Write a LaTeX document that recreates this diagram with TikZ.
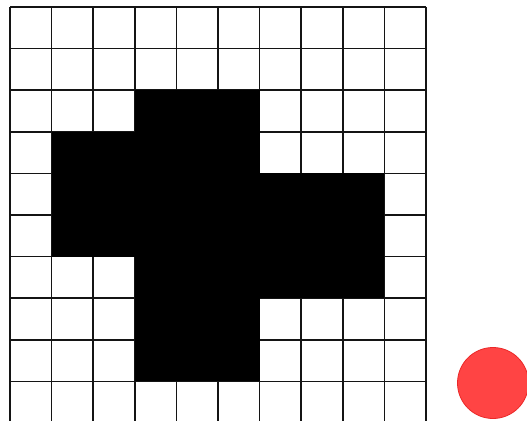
\documentclass[tikz,border=0pt]{standalone}
\definecolor{dotred}{RGB}{255,68,68}
\definecolor{dotedge}{RGB}{235,40,40}
\definecolor{gridline}{RGB}{20,20,20}
\tikzset{
  gridlines/.style={draw=gridline,line width=1.6pt},
  blackcell/.style={fill=black},
  dot/.style={circle,fill=dotred,draw=dotedge,line width=0.8pt,minimum size=71pt,inner sep=0pt}
}
\begin{document}
\begin{tikzpicture}[x=1pt,y=-1pt]
\useasboundingbox (0,0) rectangle (527,420);
\clip (0,0) rectangle (527,420);
\fill[white] (0,0) rectangle (527,420);
\def\cs{41.6}
\def\ox{10}
\def\oy{7}
\foreach \i in {0,...,10}{
  \draw[gridlines] ({\ox+\i*\cs},\oy) -- ({\ox+\i*\cs},{\oy+10*\cs});
  \draw[gridlines] (\ox,{\oy+\i*\cs}) -- ({\ox+10*\cs},{\oy+\i*\cs});
}
% black cells: row, first col, last col
\foreach \r/\a/\b in {2/3/5,3/1/5,4/1/8,5/1/8,6/3/8,7/3/5,8/3/5}{
  \fill[blackcell] ({\ox+\a*\cs},{\oy+\r*\cs}) rectangle ({\ox+(\b+1)*\cs},{\oy+(\r+1)*\cs});
}
\node[dot] (reddot) at (493,383) {};
\end{tikzpicture}
\end{document}
